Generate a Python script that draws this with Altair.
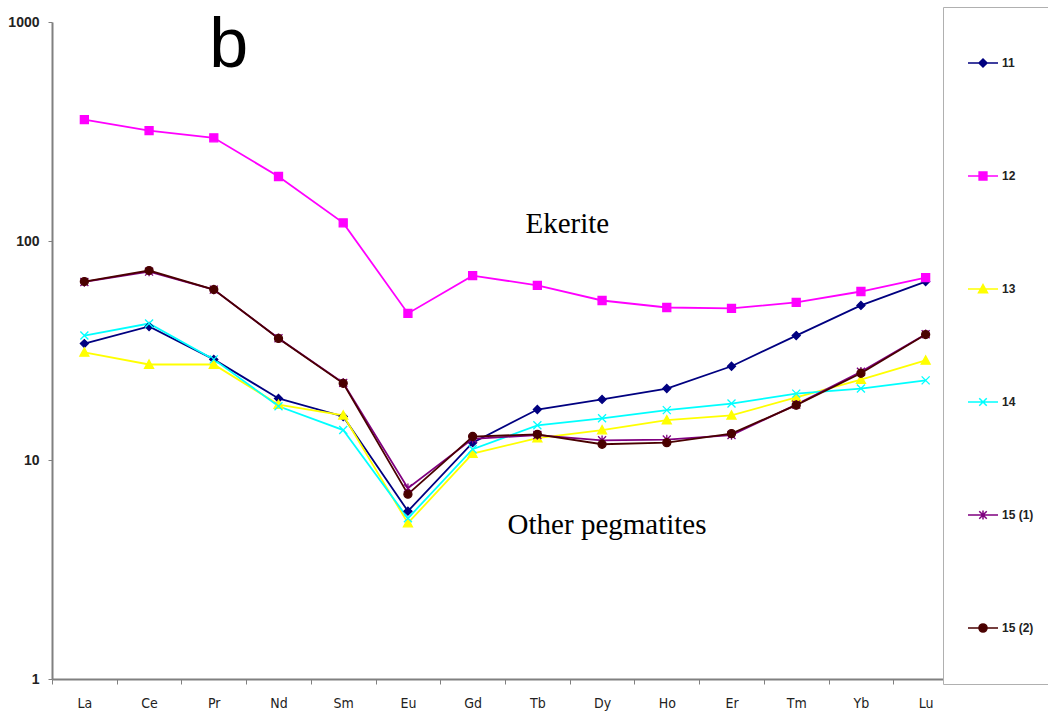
import altair as alt
import pandas as pd

# Chondrite-normalised REE patterns
elements = ["La", "Ce", "Pr", "Nd", "Sm", "Eu", "Gd", "Tb", "Dy", "Ho", "Er", "Tm", "Yb", "Lu"]
series_names = ["11", "12", "13", "14", "15 (1)", "15 (2)"]
colors = ["#000080", "#FF00FF", "#FFFF00", "#00FFFF", "#800080", "#4A0000"]

s11 = [34.0, 40.7, 28.8, 19.1, 15.8, 5.84, 12.0, 17.0, 18.9, 21.2, 26.8, 37.0, 50.8, 65.3]
s12 = [358, 319, 296, 197, 121, 46.7, 69.5, 62.7, 53.5, 49.7, 49.2, 52.4, 58.8, 68.1]
s13 = [31.0, 27.3, 27.3, 17.9, 16.0, 5.15, 10.7, 12.6, 13.7, 15.2, 16.0, 19.3, 23.3, 28.5]
s14 = [37.0, 42.0, 28.8, 17.6, 13.7, 5.42, 11.2, 14.4, 15.5, 16.9, 18.1, 20.1, 21.2, 23.1]
s15_1 = [65.0, 72.5, 60.0, 36.0, 22.5, 7.43, 12.5, 13.0, 12.3, 12.4, 13.0, 17.9, 25.3, 37.5]
s15_2 = [65.3, 73.3, 60.0, 35.9, 22.4, 6.98, 12.8, 13.1, 11.8, 12.0, 13.2, 17.8, 24.9, 37.4]

all_series = [s11, s12, s13, s14, s15_1, s15_2]

# Marker outlines for the plotted points (unit square coordinates)
marker_paths = [
    "M0,-0.8L0.8,0L0,0.8L-0.8,0Z",
    "M-0.8,-0.8H0.8V0.8H-0.8Z",
    "M0,-0.9L0.9,0.75H-0.9Z",
    "M-0.8,-0.8L0.8,0.8M-0.8,0.8L0.8,-0.8",
    "M-0.8,-0.8L0.8,0.8M-0.8,0.8L0.8,-0.8M0,-0.95V0.95",
    "M0.8,0A0.8,0.8,0,1,1,-0.8,0A0.8,0.8,0,1,1,0.8,0Z",
]
# Legend keys: a short line segment with the marker in the middle
legend_paths = [
    "M-1,0H1M0,-0.27L0.27,0L0,0.27L-0.27,0Z",
    "M-1,0H1M-0.26,-0.26H0.26V0.26H-0.26Z",
    "M-1,0H1M0,-0.3L0.3,0.25H-0.3Z",
    "M-1,0H1M-0.25,-0.25L0.25,0.25M-0.25,0.25L0.25,-0.25",
    "M-1,0H1M-0.25,-0.25L0.25,0.25M-0.25,0.25L0.25,-0.25M0,-0.3V0.3",
    "M-1,0H1M0.27,0A0.27,0.27,0,1,1,-0.27,0A0.27,0.27,0,1,1,0.27,0Z",
]

rows = []
for name, vals in zip(series_names, all_series):
    for el, v in zip(elements, vals):
        rows.append({"series": name, "element": el, "value": v})
df = pd.DataFrame(rows)

x_enc = alt.X(
    "element:N",
    sort=elements,
    bandPosition=0.5,
    scale=alt.Scale(type="band", paddingInner=0, paddingOuter=0),
    axis=alt.Axis(
        title=None,
        tickBand="extent",
        tickSize=5,
        tickColor="#808080",
        domainColor="#808080",
        domainWidth=2,
        labelAngle=0,
        labelFont="Liberation Sans Narrow, DejaVu Sans Condensed, sans-serif",
        labelFontSize=14,
        labelColor="#222222",
        labelPadding=12,
        grid=False,
    ),
)
y_enc = alt.Y(
    "value:Q",
    scale=alt.Scale(type="log", domain=[1, 1000]),
    axis=alt.Axis(
        title=None,
        values=[1, 10, 100, 1000],
        format="d",
        tickSize=4,
        tickColor="#808080",
        domainColor="#808080",
        domainWidth=2,
        labelFont="Liberation Sans",
        labelFontWeight="bold",
        labelFontSize=14,
        labelColor="#222222",
        labelPadding=9,
        grid=False,
    ),
)

base = alt.Chart(df).encode(x=x_enc, y=y_enc)

lines = base.mark_line(strokeWidth=1.8).encode(
    color=alt.Color("series:N", sort=series_names,
                    scale=alt.Scale(domain=series_names, range=colors), legend=None),
    order=alt.Order("element_idx:Q"),
).transform_calculate(element_idx="indexof(" + str(elements) + ", datum.element)")

points = base.mark_point(filled=True, size=100, strokeWidth=1.3, opacity=1).encode(
    color=alt.Color("series:N", scale=alt.Scale(domain=series_names, range=colors), legend=None),
    stroke=alt.Stroke("series:N", scale=alt.Scale(domain=series_names, range=colors), legend=None),
    shape=alt.Shape("series:N", scale=alt.Scale(domain=series_names, range=marker_paths), legend=None),
)

legend_def = alt.Legend(
    title=None,
    orient="none",
    legendX=891,
    legendY=-15,
    padding=24,
    clipHeight=64,
    rowPadding=49,
    strokeColor="#B0B0B0",
    fillColor="#FFFFFF",
    symbolSize=900,
    symbolStrokeWidth=1.5,
    labelFont="Liberation Sans",
    labelFontWeight="bold",
    labelFontSize=12,
    labelColor="#222222",
    labelOffset=3,
    labelExpr="datum.label + '\u00a0\u00a0\u00a0\u00a0\u00a0\u00a0\u00a0\u00a0\u00a0\u00a0\u00a0\u00a0\u00a0\u00a0\u00a0\u00a0'",
)

legend_layer = base.transform_filter("false").mark_point(
    filled=True, size=900, strokeWidth=1.5, opacity=1
).encode(
    color=alt.Color("series:N", scale=alt.Scale(domain=series_names, range=colors), legend=legend_def),
    stroke=alt.Stroke("series:N", scale=alt.Scale(domain=series_names, range=colors), legend=legend_def),
    shape=alt.Shape("series:N", scale=alt.Scale(domain=series_names, range=legend_paths), legend=legend_def),
)

# Annotations
panel = pd.DataFrame({"element": ["Pr"], "value": [620], "label": ["b"]})
eker = pd.DataFrame({"element": ["Tb"], "value": [120], "label": ["Ekerite"]})
other = pd.DataFrame({"element": ["Dy"], "value": [5.05], "label": ["Other pegmatites"]})

panel_text = alt.Chart(panel).mark_text(
    font="Liberation Sans", fontSize=70, dx=15, baseline="alphabetic", align="center", color="black"
).encode(x=alt.X("element:N", sort=elements, bandPosition=0.5), y="value:Q", text="label:N")

eker_text = alt.Chart(eker).mark_text(
    font="Liberation Serif", fontSize=29, dx=30, baseline="middle", align="center", color="black"
).encode(x=alt.X("element:N", sort=elements, bandPosition=0.5), y="value:Q", text="label:N")

other_text = alt.Chart(other).mark_text(
    font="Liberation Serif", fontSize=29, dx=5, baseline="middle", align="center", color="black"
).encode(x=alt.X("element:N", sort=elements, bandPosition=0.5), y="value:Q", text="label:N")

chart = (
    alt.layer(lines, points, panel_text, eker_text, other_text, legend_layer)
    .resolve_scale(color="independent", stroke="independent", shape="independent")
    .properties(
        width=906,
        height=657,
        autosize=alt.AutoSizeParams(type="none"),
        padding={"left": 52, "top": 22, "right": 90, "bottom": 34},
        background="white",
    )
    .configure_view(stroke=None)
)

chart.save("out.html", embed_options={"renderer": "svg", "actions": False})
